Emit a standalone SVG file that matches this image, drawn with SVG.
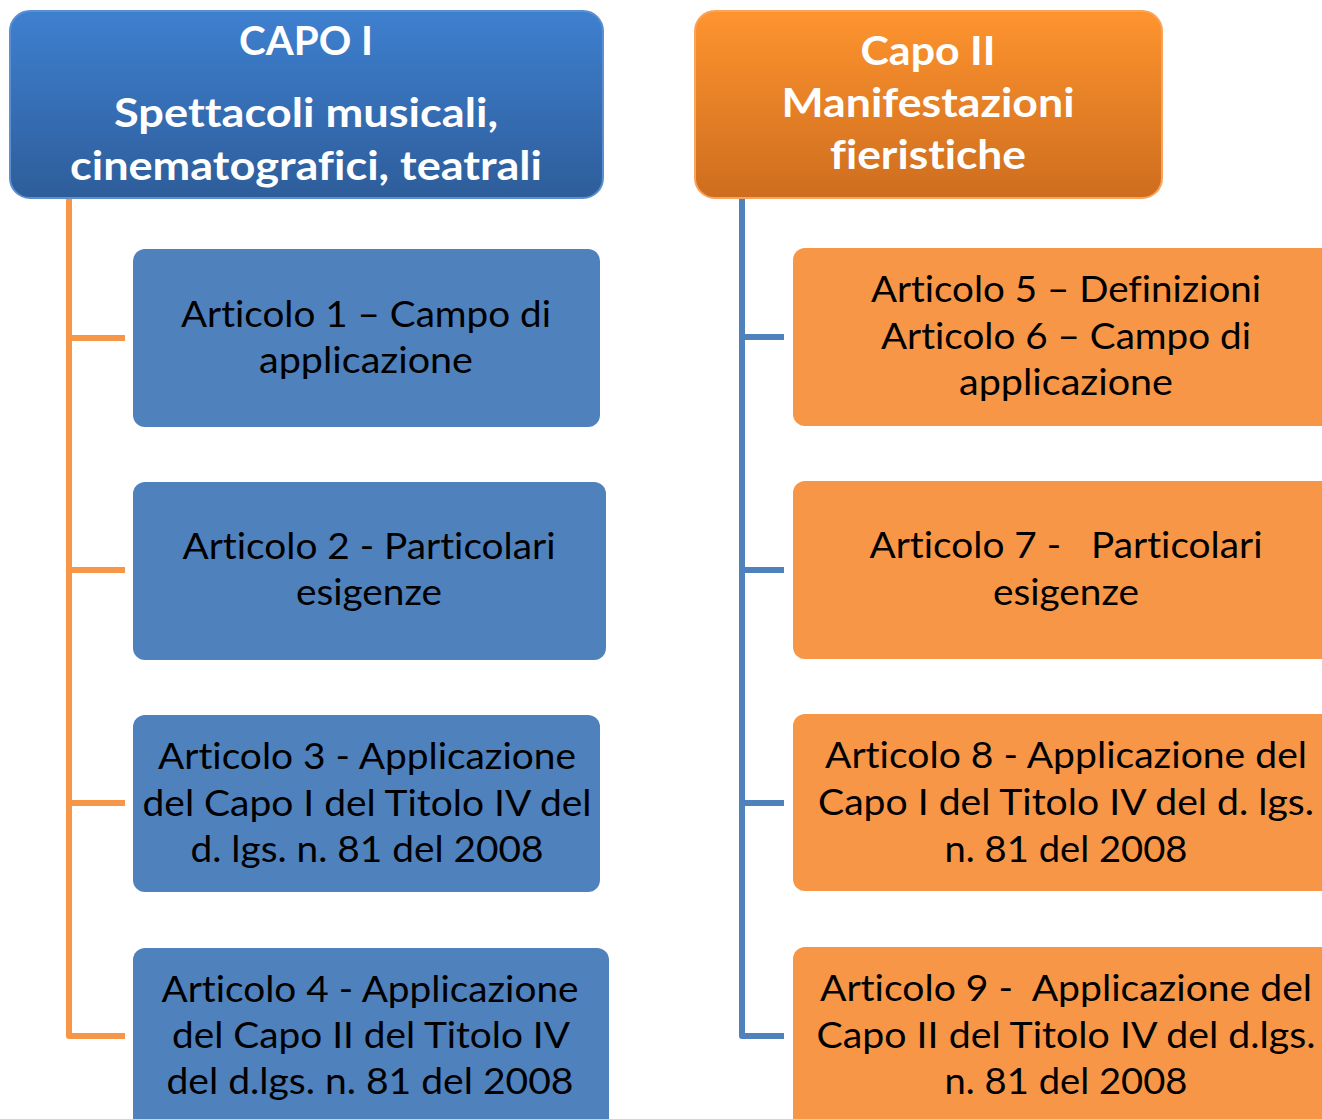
<svg xmlns="http://www.w3.org/2000/svg" width="1322" height="1119" viewBox="0 0 1322 1119">
<defs>
<linearGradient id="gBlue" x1="0" y1="0" x2="0" y2="1">
<stop offset="0" stop-color="#3e80d0"/>
<stop offset="1" stop-color="#2e5d9a"/>
</linearGradient>
<linearGradient id="gOrange" x1="0" y1="0" x2="0" y2="1">
<stop offset="0" stop-color="#ff942f"/>
<stop offset="1" stop-color="#cd6d1e"/>
</linearGradient>
<style>
text{font-variant-ligatures:none;font-feature-settings:"liga" 0,"clig" 0}
.hdr{font-family:Lato,"Open Sans","Liberation Sans",sans-serif;font-weight:bold;font-size:40px;fill:#ffffff;text-anchor:middle}
.art{font-family:Lato,"Open Sans","Liberation Sans",sans-serif;font-size:37px;fill:#000000;text-anchor:middle}
.bbox{fill:#4f81bd}
.obox{fill:#f79646}
.lo{stroke:#f79646;stroke-width:6;fill:none;stroke-linejoin:round}
.lb{stroke:#4f81bd;stroke-width:6;fill:none;stroke-linejoin:round}
</style>
</defs>
<rect width="1322" height="1119" fill="#ffffff"/>
<g id="connectors">
<path class="lo" d="M69,198 V1036 H125 M69,338 H125 M69,570 H125 M69,803 H125"/>
<path class="lb" d="M742,198 V1036 H784 M742,337 H784 M742,570 H784 M742,803 H784"/>
</g>
<g id="capo1">
<rect x="10" y="11" width="593" height="187" rx="20" fill="url(#gBlue)" stroke="#5b8fd0" stroke-width="2"/>
<text class="hdr" x="306" y="55" textLength="134" lengthAdjust="spacingAndGlyphs">CAPO I</text>
<text class="hdr" x="306" y="127" textLength="384" lengthAdjust="spacingAndGlyphs">Spettacoli musicali,</text>
<text class="hdr" x="306" y="180" textLength="472" lengthAdjust="spacingAndGlyphs">cinematografici, teatrali</text>
</g>
<g id="capo2">
<rect x="695" y="11" width="467" height="187" rx="20" fill="url(#gOrange)" stroke="#f9a35c" stroke-width="2"/>
<text class="hdr" x="928" y="65" textLength="135" lengthAdjust="spacingAndGlyphs">Capo II</text>
<text class="hdr" x="928" y="117" textLength="293" lengthAdjust="spacingAndGlyphs">Manifestazioni</text>
<text class="hdr" x="928" y="169" textLength="196" lengthAdjust="spacingAndGlyphs">fieristiche</text>
</g>
<g id="art1">
<rect class="bbox" x="133" y="249" width="467" height="178" rx="12"/>
<text class="art" x="366" y="327" textLength="370" lengthAdjust="spacingAndGlyphs">Articolo 1 – Campo di</text>
<text class="art" x="366" y="373" textLength="214" lengthAdjust="spacingAndGlyphs">applicazione</text>
</g>
<g id="art2">
<rect class="bbox" x="133" y="482" width="473" height="178" rx="12"/>
<text class="art" x="369" y="559" textLength="373" lengthAdjust="spacingAndGlyphs">Articolo 2 - Particolari</text>
<text class="art" x="369" y="605" textLength="146" lengthAdjust="spacingAndGlyphs">esigenze</text>
</g>
<g id="art3">
<rect class="bbox" x="133" y="715" width="467" height="177" rx="12"/>
<text class="art" x="367" y="769" textLength="418" lengthAdjust="spacingAndGlyphs">Articolo 3 - Applicazione</text>
<text class="art" x="367" y="816" textLength="449" lengthAdjust="spacingAndGlyphs">del Capo I del Titolo IV del</text>
<text class="art" x="367" y="862" textLength="353" lengthAdjust="spacingAndGlyphs">d. lgs. n. 81 del 2008</text>
</g>
<g id="art4">
<rect class="bbox" x="133" y="948" width="476" height="190" rx="12"/>
<text class="art" x="370" y="1002" textLength="417" lengthAdjust="spacingAndGlyphs">Articolo 4 - Applicazione</text>
<text class="art" x="371" y="1048" textLength="398" lengthAdjust="spacingAndGlyphs">del Capo II del Titolo IV</text>
<text class="art" x="370" y="1094" textLength="407" lengthAdjust="spacingAndGlyphs">del d.lgs. n. 81 del 2008</text>
</g>
<g id="art5-6">
<rect class="obox" x="793" y="248" width="560" height="178" rx="12"/>
<text class="art" x="1066" y="302" textLength="390" lengthAdjust="spacingAndGlyphs">Articolo 5 – Definizioni</text>
<text class="art" x="1066" y="349" textLength="370" lengthAdjust="spacingAndGlyphs">Articolo 6 – Campo di</text>
<text class="art" x="1066" y="395" textLength="214" lengthAdjust="spacingAndGlyphs">applicazione</text>
</g>
<g id="art7">
<rect class="obox" x="793" y="481" width="560" height="178" rx="12"/>
<text class="art" x="1066" y="558" textLength="393" lengthAdjust="spacingAndGlyphs" xml:space="preserve">Articolo 7 -   Particolari</text>
<text class="art" x="1066" y="605" textLength="146" lengthAdjust="spacingAndGlyphs">esigenze</text>
</g>
<g id="art8">
<rect class="obox" x="793" y="714" width="560" height="177" rx="12"/>
<text class="art" x="1066" y="768" textLength="482" lengthAdjust="spacingAndGlyphs">Articolo 8 - Applicazione del</text>
<text class="art" x="1066" y="815" textLength="496" lengthAdjust="spacingAndGlyphs">Capo I del Titolo IV del d. lgs.</text>
<text class="art" x="1066" y="862" textLength="243" lengthAdjust="spacingAndGlyphs">n. 81 del 2008</text>
</g>
<g id="art9">
<rect class="obox" x="793" y="947" width="560" height="190" rx="12"/>
<text class="art" x="1066" y="1001" textLength="492" lengthAdjust="spacingAndGlyphs" xml:space="preserve">Articolo 9 -  Applicazione del</text>
<text class="art" x="1066" y="1048" textLength="499" lengthAdjust="spacingAndGlyphs">Capo II del Titolo IV del d.lgs.</text>
<text class="art" x="1066" y="1094" textLength="243" lengthAdjust="spacingAndGlyphs">n. 81 del 2008</text>
</g>
</svg>
